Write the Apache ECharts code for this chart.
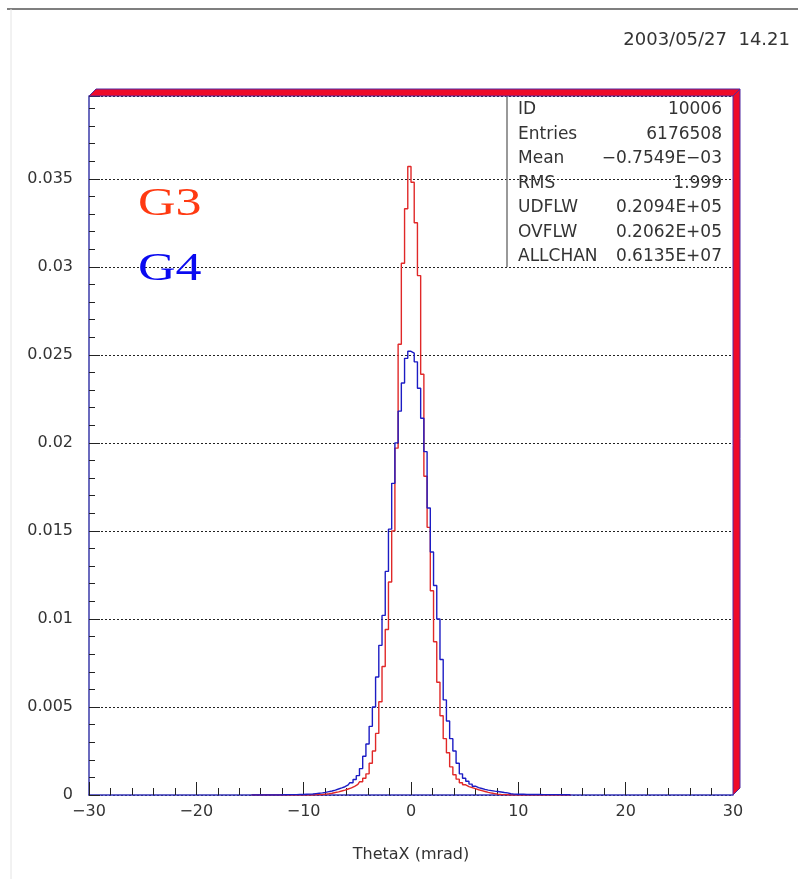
<!DOCTYPE html>
<html>
<head>
<meta charset="utf-8">
<script src="https://cdn.jsdelivr.net/npm/echarts@6/dist/echarts.min.js"></script>
<style>
  html, body { margin: 0; padding: 0; background: #fff; }
  #chart { width: 798px; height: 879px; }
</style>
</head>
<body>
<div id="chart"></div>
<script>
// histogram binning: 100 bins of 0.3 mrad from -15 to +15 (outside is empty)
const binMin = -15;
const binWidth = 0.3;

// G3 (red) bin contents
const g3 = [
  0, 0, 0, 0, 0, 0, 0, 0, 0, 0,
  0, 0, 0, 0, 0, 0, 0, 0, 0, 0,
  0.00001, 0.00002, 0.00003, 0.00005, 0.00007, 0.0001, 0.00014, 0.00018, 0.00023, 0.00028,
  0.00034, 0.0004, 0.00049, 0.0006, 0.00075, 0.00095, 0.0012, 0.0018, 0.0025, 0.0035,
  0.0053, 0.0073, 0.0094, 0.0121, 0.015, 0.0197, 0.0256, 0.0302, 0.0333, 0.0357,
  0.0348, 0.0325, 0.0295, 0.0239, 0.0181, 0.0152, 0.0116, 0.0087, 0.0064, 0.0045,
  0.0032, 0.0024, 0.0016, 0.00115, 0.0009, 0.0007, 0.00058, 0.00048, 0.00042, 0.00036,
  0.0003, 0.00025, 0.0002, 0.00015, 0.00011, 0.00008, 0.00005, 0.00003, 0.00002, 0.00001,
  0, 0, 0, 0, 0, 0, 0, 0, 0, 0,
  0, 0, 0, 0, 0, 0, 0, 0, 0, 0
];

// G4 (blue) bin contents
const g4 = [
  0, 0, 0, 0, 0, 0, 0, 0, 0, 0,
  0.00001, 0.00001, 0.00002, 0.00002, 0.00002, 0.00003, 0.00003, 0.00004, 0.00005, 0.00006,
  0.00008, 0.0001, 0.00012, 0.00015, 0.00019, 0.00023, 0.00028, 0.00034, 0.0004, 0.00047,
  0.00057, 0.0007, 0.00088, 0.0011, 0.0015, 0.0022, 0.0029, 0.0039, 0.005, 0.0067,
  0.0085, 0.0102, 0.0127, 0.0151, 0.0177, 0.02, 0.0218, 0.0234, 0.0248, 0.0252,
  0.0251, 0.0246, 0.0231, 0.0214, 0.0195, 0.0163, 0.0138, 0.0119, 0.01, 0.0077,
  0.0054, 0.0042, 0.0032, 0.0025, 0.0018, 0.0012, 0.00095, 0.00078, 0.00062, 0.0005,
  0.00042, 0.00037, 0.00032, 0.00028, 0.00025, 0.00022, 0.0002, 0.00017, 0.00014, 0.00012,
  0.00007, 0.00005, 0.00004, 0.00004, 0.00004, 0.00003, 0.00003, 0.00003, 0.00003, 0.00003,
  0.00002, 0.00002, 0.00002, 0.00002, 0.00002, 0.00002, 0.00001, 0.00001, 0.00001, 0.00001
];

const xRange = [-30, 30];
const yRange = [0, 0.0397];

const statLabels = ['ID', 'Entries', 'Mean', 'RMS', 'UDFLW', 'OVFLW', 'ALLCHAN'];
const statValues = ['10006', '6176508', '\u22120.7549E\u221203', '1.999', '0.2094E+05', '0.2062E+05', '0.6135E+07'];

const dateText = '2003/05/27  14.21';

// layout (pixels)
const W = 798, H = 879;
const L = 89, R = 733, T = 96, B = 795;
const depth = 7;

const toPairs = arr => arr.map((v, i) => [binMin + binWidth * (i + 0.5), v]);
const minus = v => String(v).replace('-', '\u2212');

const chart = echarts.init(document.getElementById('chart'), null, { renderer: 'canvas' });

const statGraphics = [];
statLabels.forEach((lab, i) => {
  const y = 110 + i * 24.5;
  statGraphics.push({
    type: 'text', x: 518, y: y, z: 50,
    style: { text: lab, font: '17px "DejaVu Sans"', fill: '#333', verticalAlign: 'middle', align: 'left' }
  });
  statGraphics.push({
    type: 'text', x: 722, y: y, z: 50,
    style: { text: statValues[i], font: '17px "DejaVu Sans"', fill: '#333', verticalAlign: 'middle', align: 'right' }
  });
});

const option = {
  animation: false,
  backgroundColor: '#fff',
  grid: { left: L, right: W - R, top: T, bottom: H - B, containLabel: false },
  xAxis: {
    type: 'value',
    min: xRange[0], max: xRange[1], interval: 10,
    name: 'ThetaX (mrad)',
    nameLocation: 'middle',
    nameGap: 52,
    nameTextStyle: { fontFamily: 'DejaVu Sans', fontSize: 16, color: '#333' },
    axisLine: { onZero: false, lineStyle: { color: '#3434b8', width: 1.5 } },
    axisTick: { inside: true, length: 13, lineStyle: { color: '#222' } },
    minorTick: { show: true, splitNumber: 5, length: 7, lineStyle: { color: '#222' } },
    axisLabel: { margin: 9, fontFamily: 'DejaVu Sans', fontSize: 16, color: '#333', formatter: minus },
    splitLine: { show: false }
  },
  yAxis: [
    {
      type: 'value',
      min: yRange[0], max: yRange[1], interval: 0.005,
      axisLine: { onZero: false, lineStyle: { color: '#3a3aa8', width: 1.5 } },
      axisTick: { inside: true, length: 11, lineStyle: { color: '#222' } },
      axisLabel: {
        margin: 16, fontFamily: 'DejaVu Sans', fontSize: 16, color: '#333',
        formatter: v => (v > 0.0375 ? '' : String(v))
      },
      splitLine: { show: true, lineStyle: { color: '#222', type: [2, 2], width: 1 } }
    },
    {
      // minor ticks every 0.001
      type: 'value', position: 'left',
      min: yRange[0], max: yRange[1], interval: 0.001,
      axisLine: { show: false, onZero: false },
      axisTick: { inside: true, length: 6, lineStyle: { color: '#222' } },
      axisLabel: { show: false },
      splitLine: { show: false }
    }
  ],
  series: [
    {
      name: 'G3', type: 'line', step: 'middle', data: toPairs(g3),
      symbol: 'none', lineStyle: { color: '#e02828', width: 1.4 }, z: 3
    },
    {
      name: 'G4', type: 'line', step: 'middle', data: toPairs(g4),
      symbol: 'none', lineStyle: { color: '#1c1cc4', width: 1.4 }, z: 4
    }
  ],
  graphic: [
    { type: 'line', z: 1, shape: { x1: 7, y1: 9, x2: W, y2: 9 }, style: { stroke: '#555', lineWidth: 1.5 } },
    { type: 'line', z: 1, shape: { x1: 11, y1: 9, x2: 11, y2: H }, style: { stroke: '#e4e4e4', lineWidth: 1 } },
    {
      type: 'text', x: 790, y: 40, z: 50,
      style: { text: dateText, font: '18px "DejaVu Sans"', fill: '#333', align: 'right', verticalAlign: 'middle' }
    },
    // 3D frame: top and right red bands
    {
      type: 'polygon', z: 60,
      shape: { points: [[L, T], [L + depth, T - depth], [R + depth, T - depth], [R, T]] },
      style: { fill: '#ee0a2a', stroke: '#5028a0', lineWidth: 1 }
    },
    {
      type: 'polygon', z: 60,
      shape: { points: [[R, T], [R + depth, T - depth], [R + depth, B - depth], [R, B]] },
      style: { fill: '#ee0a2a', stroke: '#5028a0', lineWidth: 1 }
    },
    // stats box left border
    { type: 'line', z: 50, shape: { x1: 507, y1: T, x2: 507, y2: 267 }, style: { stroke: '#777', lineWidth: 1.5 } },
    ...statGraphics,
    {
      type: 'text', x: 138, y: 204, z: 50, scaleX: 1.3,
      style: { text: 'G3', font: '40px "Liberation Serif"', fill: '#ff3a12', align: 'left', verticalAlign: 'middle' }
    },
    {
      type: 'text', x: 138, y: 269, z: 50, scaleX: 1.3,
      style: { text: 'G4', font: '40px "Liberation Serif"', fill: '#0a0af0', align: 'left', verticalAlign: 'middle' }
    }
  ]
};

chart.setOption(option);
</script>
</body>
</html>
